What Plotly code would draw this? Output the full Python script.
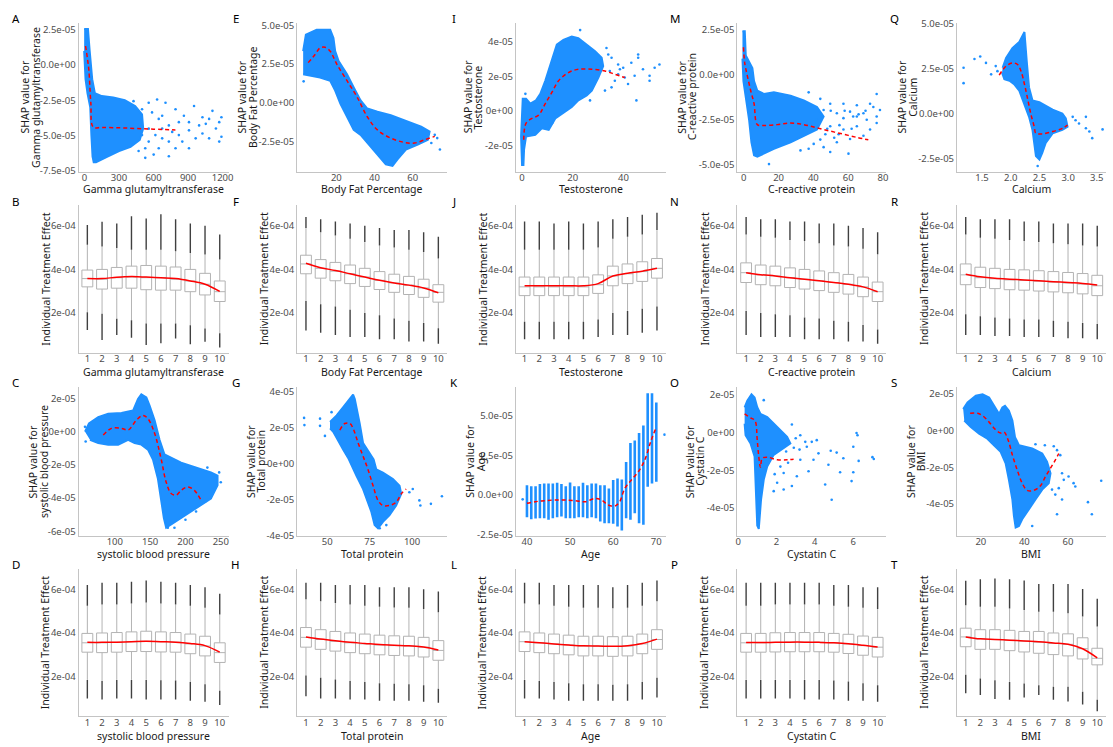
import plotly.graph_objects as go

# ---------------- data (SHAP values in units of 1e-5, ITE in units of 1e-4) ----------------
E5 = 1e-5
E4 = 1e-4

# A: Gamma glutamyltransferase
a_poly_x = [-3, 30, 45, 55, 67, 90, 150, 250, 350, 440, 500, 510, 480, 400, 300, 200, 100, 80, 70, 60, 50, 26, 9, 3, -3]
a_poly_y = [2.55, 2.55, 1.0, 0.0, -1.0, -2.0, -2.2, -2.3, -2.5, -2.9, -3.5, -4.5, -5.3, -5.8, -6.1, -6.5, -6.9, -6.9, -6.5, -5.0, -3.0, -2.0, -1.0, 0.0, 1.0]
a_pts_x = [426, 631, 558, 704, 791, 952, 1112, 1190, 1025, 864, 908, 1054, 1142, 1190, 966, 1025, 850, 791, 733, 645,
           528, 1083, 1171, 675, 762, 645, 558, 528, 601, 908, 500, 587, 675, 733, 500, 558, 616, 470, 675, 820,
           820, 996, 1083, 1171, 908, 733]
a_pts_y = [-2.56, -2.44, -2.67, -2.67, -3.13, -2.9, -3.25, -3.7, -3.7, -3.6, -4.05, -4.17, -4.5, -5.09, -5.2, -4.86, -5.43, -5.9, -6.47, -5.9,
           -5.9, -5.2, -5.43, -5.2, -4.74, -3.82, -4.51, -6.58, -6.35, -4.63, -3.13, -3.36, -3.6, -4.28, -4.97, -5.43, -4.97, -6.1, -4.5, -4.05,
           -4.97, -4.28, -3.82, -4.05, -5.9, -5.43]
a_tr_x = [9, 25, 38, 55, 76, 150, 300, 450, 600, 790]
a_tr_y = [1.35, 0.5, -0.37, -2.68, -4.4, -4.42, -4.45, -4.5, -4.55, -4.6]

# E: Body Fat Percentage
e_poly_x = [2.65, 4.07, 9.7, 16.8, 18.5, 19.4, 21.2, 25.6, 29.1, 32.7, 36.2, 41.5, 48.5, 57.3, 64.4, 68.8, 67.9, 62.6, 56.4, 52.0,
            49.4, 45.9, 41.5, 36.2, 32.7, 29.1, 25.6, 22.1, 19.4, 16.8, 11.5, 6.2, 2.65]
e_poly_y = [3.33, 4.39, 4.71, 4.71, 4.18, 3.33, 2.69, 1.84, 0.99, 0.15, -0.38, -0.59, -0.81, -1.23, -1.55, -1.87, -2.40, -2.71, -3.03, -3.67,
            -4.09, -3.99, -3.35, -2.61, -2.08, -1.76, -0.91, -0.06, 0.78, 1.42, 1.63, 1.74, 1.84]
e_pts_x = [71.5, 74.2, 69.7, 72.8, 2.9]
e_pts_y = [-2.08, -3.03, -2.61, -2.29, 1.38]
e_tr_x = [5.3, 8.9, 11.5, 14.1, 16.8, 20.3, 25.6, 30.9, 36.2, 41.5, 48.5, 55.6, 60.9, 66.2, 71.5]
e_tr_y = [2.59, 3.12, 3.54, 3.58, 3.33, 2.48, 1.42, 0.36, -0.91, -1.76, -2.29, -2.57, -2.61, -2.40, -2.18]

# I: Testosterone
i_poly_x = [0, -0.4, 0, 0.26, 1.57, 3.27, 5.49, 7.19, 9.15, 11.8, 13.7, 16.3, 19.6, 22.2, 25.5, 28.8, 31.4, 32.0, 30.1, 27.5,
            25.5, 22.2, 19.6, 15.7, 13.1, 10.5, 7.8, 5.2, 1.57, 0.78, 0.52]
i_poly_y = [-3.2, -1.49, -0.15, 0.70, 0.70, 0.42, 0.61, 0.99, 1.75, 2.9, 3.85, 4.13, 4.32, 4.23, 3.85, 3.47, 3.09, 2.61, 1.94, 1.18,
            0.90, 0.61, 0.23, -0.15, -0.44, -1.10, -1.01, -1.39, -1.49, -2.25, -3.2]
i_pts_x = [22.9, 34, 33.3, 35.3, 37.9, 39.9, 43.1, 45.8, 45.8, 44.4, 47.7, 50.3, 50.3, 54.2, 52.3, 38.6, 40.5, 35.3, 32.7, 45.1,
           37.9, 34.6, 36.6, 41.8, 26.8, 13.1, 11.8, 1.3]
i_pts_y = [4.7, 3.28, 3.66, 3.09, 2.7, 2.51, 2.8, 3.28, 3.09, 2.04, 2.42, 2.04, 1.75, 2.7, 2.51, 2.42, 1.94, 1.37, 1.18, 0.61,
           2.13, 2.32, 1.75, 1.56, 0.61, -0.15, -0.72, 0.99]
i_tr_x = [0.65, 1.57, 3.9, 6.5, 9.15, 11.8, 14.4, 18.3, 22.2, 27.5, 32.7, 36.6, 40.5]
i_tr_y = [-1.68, -0.72, -0.44, -0.25, 0.42, 1.09, 1.75, 2.23, 2.42, 2.42, 2.32, 2.13, 1.94]

# M: C-reactive protein
m_poly_x = [-0.76, 0.57, 1.14, 2.1, 4.95, 5.9, 7.8, 11.6, 17.3, 26.9, 34.5, 42.1, 45.9, 42.1, 34.5, 26.9, 17.3, 11.6, 7.8, 5.9,
            4.4, 3.05, 1.14, -0.2, -0.76]
m_poly_y = [2.41, 2.41, 1.07, 0.89, 0.36, -0.36, -0.89, -1.07, -0.98, -1.16, -1.43, -1.79, -2.32, -3.04, -3.39, -3.75, -4.11, -4.38, -4.55, -4.47,
            -3.75, -2.5, -1.25, -0.36, 0.89]
m_pts_x = [37.3, 44, 49.7, 57.3, 65, 72.6, 76.4, 74.5, 76.4, 68.8, 62.9, 57.3, 49.7, 57.3, 65, 72.6, 76.4, 68.8, 61.1, 53.5,
           45.9, 40.2, 49.7, 60.2, 37.3, 32.6, 65, 53.5, 45.9, 61.1, 70.7, 78.3, 54.5, 46.9, 14.5,
           50, 52, 55, 48, 58, 42, 44, 62, 66, 70]
m_pts_y = [-0.98, -1.34, -1.61, -1.61, -1.7, -1.61, -1.07, -1.79, -2.32, -2.14, -2.32, -2.41, -2.86, -3.04, -2.86, -3.04, -2.68, -3.39, -3.57, -3.75,
           -4.02, -3.84, -4.29, -4.38, -4.11, -4.2, -2.32, -2.14, -1.96, -2.05, -2.5, -1.96, -3.3, -3.3, -4.96,
           -2.0, -3.5, -2.8, -3.0, -2.0, -2.5, -3.6, -3.0, -2.2, -2.0]
m_tr_x = [-0.2, 0.57, 2.1, 4.0, 5.9, 7.8, 11.6, 19.2, 26.9, 34.5, 42.1, 49.7, 57.3, 65, 71.6]
m_tr_y = [1.52, 0.63, -0.09, -0.89, -1.61, -2.77, -2.82, -2.77, -2.68, -2.77, -2.95, -3.13, -3.3, -3.48, -3.61]

# Q: Calcium
q_poly_x = [1.86, 1.92, 2.03, 2.15, 2.24, 2.25, 2.28, 2.32, 2.38, 2.5, 2.73, 2.9, 2.96, 2.99, 2.9, 2.73, 2.61, 2.55, 2.5, 2.44,
            2.41, 2.38, 2.32, 2.24, 2.15, 2.06, 1.98, 1.89, 1.85]
q_poly_y = [2.56, 3.1, 3.65, 4.0, 4.55, 4.0, 2.92, 1.46, 0.73, 0.64, 0.22, 0, -0.27, -0.73, -0.91, -1.1, -1.64, -2.19, -2.56, -2.37,
            -1.64, -0.91, -0.18, 0.55, 1.28, 1.64, 1.83, 1.92, 2.28]
q_pts_x = [1.18, 1.18, 1.37, 1.47, 1.57, 1.74, 1.66, 1.77, 2.47, 3.13, 3.19, 3.31, 3.37, 3.42, 3.31, 3.6, 3.08]
q_pts_y = [2.56, 1.7, 3.05, 3.19, 2.83, 2.65, 2.19, 2.37, -2.92, -0.37, -0.55, -0.82, -1.0, -1.37, -0.18, -0.88, -0.18]
q_tr_x = [1.8, 1.92, 2.03, 2.12, 2.18, 2.24, 2.29, 2.35, 2.41, 2.44, 2.55, 2.73, 2.9, 2.99]
q_tr_y = [2.15, 2.65, 2.83, 2.74, 2.37, 1.64, 0.91, 0, -0.73, -1.1, -1.13, -1.0, -0.82, -0.64]

# C: systolic blood pressure
c_poly_x = [57.8, 63.4, 76.5, 90.6, 109.4, 125.8, 132.8, 137.5, 144.6, 149.2, 156.3, 163.3, 170.3, 179.7, 193.8, 207.9, 222, 236, 245.4, 245.4,
            236, 222, 207.9, 193.8, 179.7, 172.7, 169.4, 165.7, 161, 154, 146.9, 137.5, 128.1, 118.8, 104.7, 90.6, 76.5, 64.8]
c_poly_y = [0, 0.49, 0.88, 1.08, 1.12, 1.27, 1.96, 2.25, 2.06, 1.57, 0.69, -0.49, -1.37, -1.57, -1.86, -2.06, -2.25, -2.45, -2.65, -3.23,
            -4.02, -4.41, -4.8, -5.19, -5.59, -5.78, -5.19, -4.02, -2.84, -1.67, -1.08, -0.78, -0.69, -0.49, -0.78, -0.78, -0.69, -0.49]
c_pts_x = [58.7, 57.8, 231, 247.7, 250, 240.7, 184.4, 175, 215, 228, 200]
c_pts_y = [-0.59, 0.29, -2.16, -2.45, -3.04, -3.43, -5.78, -5.78, -4.8, -4.2, -5.3]
c_tr_x = [83.6, 95.3, 109.4, 118.8, 130.5, 139.9, 146.9, 156.3, 165.7, 172.7, 179.7, 186.8, 193.8, 203.2, 212.6, 222]
c_tr_y = [-0.2, 0.2, 0.2, 0.1, 0.69, 0.98, 0.78, -0.1, -1.67, -3.04, -3.72, -3.82, -3.53, -3.33, -3.53, -4.12]

# G: Total protein
g_poly_x = [51.6, 55.5, 59.4, 62.3, 65.2, 66.2, 67.2, 69.1, 71.1, 75, 77.3, 78.9, 82.8, 88.7, 92.6, 93.6, 90.6, 86.7, 82.8, 79.9,
            77.9, 76, 73, 71.1, 67.2, 65.2, 62.3, 59.4, 56.4, 53.5, 51.6]
g_poly_y = [2.31, 2.67, 3.13, 3.49, 3.82, 3.58, 3.13, 2.22, 1.13, 0.58, 0.22, -0.33, -0.51, -0.87, -1.24, -1.69, -2.33, -2.87, -3.24, -3.6,
            -3.42, -2.69, -1.96, -1.42, -0.69, -0.24, 0.31, 0.76, 1.31, 1.76, 1.95]
g_pts_x = [36.3, 36.5, 45.7, 45.7, 48.6, 52.5, 100.4, 104.3, 104.9, 111.1, 117.6, 98.4, 80.9, 84.8]
g_pts_y = [2.53, 2.13, 2.49, 2.09, 1.53, 2.85, -1.42, -2.05, -2.33, -2.24, -1.82, -1.6, -3.6, -3.42]
g_tr_x = [57.4, 60.3, 63.3, 65.2, 68.2, 71.1, 74, 77, 79.9, 82.8, 86.7, 90.6, 93.6, 96.5]
g_tr_y = [1.85, 2.22, 2.22, 1.95, 1.13, 0.4, -0.33, -1.24, -2.05, -2.33, -2.33, -2.15, -1.69, -1.42]

# K: Age (one column of points per year)
k_age = [40, 41, 42, 43, 44, 45, 46, 47, 48, 49, 50, 51, 52, 53, 54, 55, 56, 57, 58, 59, 60, 61, 62, 63, 64, 65, 66, 67, 68, 69, 70]
k_lo = [-1.40, -1.52, -1.48, -1.46, -1.46, -1.56, -1.46, -1.40, -1.35, -1.46, -1.46, -1.46, -1.40, -1.40, -1.46, -1.40, -1.46, -1.67, -1.77, -1.77,
        -1.81, -1.98, -2.23, -1.46, -1.56, -1.15, -1.77, -1.87, 0.52, 0.73, 0.83]
k_hi = [0.62, 0.56, 0.56, 0.69, 0.73, 0.73, 0.73, 0.77, 0.69, 0.56, 0.79, 0.56, 0.56, 0.77, 0.62, 0.73, 0.73, 0.62, 0.62, 0.42,
        0.94, 1.04, 0.98, 2.08, 3.27, 3.44, 3.90, 4.38, 6.40, 6.40, 5.83]
k_pts_x = [39, 71.9]
k_pts_y = [-0.27, 3.8]
k_tr_x = [40, 41.9, 44.2, 46.5, 48.8, 51.2, 53.5, 55.8, 57.3, 58.8, 60.4, 61.5, 62.7, 64.2, 65.8, 67.3, 68.8, 70]
k_tr_y = [-0.52, -0.42, -0.35, -0.31, -0.31, -0.35, -0.42, -0.21, -0.31, -0.62, -0.69, -0.42, 0.42, 0.94, 1.46, 2.19, 3.44, 4.27]

# O: Cystatin C
o_poly_x = [0.33, 0.47, 0.69, 0.85, 0.99, 1.16, 1.51, 1.85, 2.2, 2.55, 2.72, 2.37, 1.85, 1.51, 1.33, 1.19, 1.13, 1.07, 0.99, 0.95,
            0.94, 0.85, 0.64, 0.38, 0.33]
o_poly_y = [1.34, 1.69, 2.03, 1.86, 1.34, 0.99, 0.82, 0.47, 0.12, -0.23, -0.57, -0.83, -1.18, -1.79, -2.49, -3.53, -4.4, -5.1, -4.92, -3.88,
            -2.66, -1.27, -0.57, -0.14, 0.47]
o_pts_x = [1.33, 2.8, 3.24, 3.5, 3.84, 4.1, 3.58, 4.19, 3.67, 3.06, 2.8, 2.37, 4.54, 4.83, 4.88, 5.14, 5.32, 5.49, 6.01, 6.18,
           6.23, 6.29, 6.01, 5.92, 7.01, 7.08, 4.71, 2.37, 2.03, 1.85, 3.24, 3.93, 2.0, 2.5, 2.9, 3.0, 2.2, 2.6, 3.2, 1.9]
o_pts_y = [1.72, 0.43, -0.14, -0.49, -0.49, -0.4, -0.75, -1.1, -2.05, -2.31, -2.83, -3.01, -2.75, -0.96, -3.56, -1.06, -2.1, -1.36, -0.75, -0.02,
           -0.14, -1.5, -2.1, -2.57, -1.3, -1.4, -1.7, -2.14, -2.66, -3.1, -1.44, -1.44, -0.5, -1.0, -0.8, -0.3, -1.8, -1.6, -0.9, -2.2]
o_tr_x = [0.33, 0.64, 0.87, 0.99, 1.07, 1.16, 1.25, 1.51, 2.03, 2.55, 2.89]
o_tr_y = [0.99, 0.78, 0.64, -0.4, -1.27, -1.84, -1.36, -1.3, -1.44, -1.44, -1.41]

# S: BMI
s_poly_x = [11.9, 13.9, 17.7, 20.8, 23.8, 26.1, 28.4, 29.9, 31.1, 32.9, 34.5, 35.7, 37.5, 43.6, 48.2, 50.4, 52, 51.2, 48.2, 45.1,
            42.1, 39, 37.5, 36, 35.2, 34.5, 32.9, 31.4, 29.1, 26.1, 23, 19.2, 15.4, 12.4]
s_poly_y = [1.16, 1.52, 1.88, 1.96, 1.79, 1.34, 0.89, 1.25, 1.34, 1.07, 0.54, -0.36, -0.8, -0.98, -1.25, -1.7, -2.32, -2.86, -3.21, -3.75,
            -4.29, -4.82, -5.18, -5.27, -4.64, -3.75, -2.68, -1.79, -1.16, -0.8, -0.45, -0.18, 0.18, 0.54]
s_pts_x = [45.1, 49.4, 53.5, 55, 56.5, 57.3, 58.1, 60.3, 62.6, 63.4, 55.8, 57.3, 55, 69.2, 75.3, 71, 54.2, 52.7, 43.6]
s_pts_y = [-0.75, -0.8, -0.86, -1.07, -1.34, -2.32, -2.68, -2.5, -2.86, -3.04, -3.13, -3.75, -4.55, -3.89, -2.73, -4.55, -3.48, -3.21, -5.18]
s_tr_x = [15.1, 18.5, 20.8, 23.8, 26.8, 29.1, 30.7, 32.6, 34.5, 36.7, 39, 41.3, 44.4, 47.4, 49.7, 52, 54.2, 55.8]
s_tr_y = [0.93, 0.93, 0.8, 0.45, 0.04, -0.14, -0.09, -0.54, -1.34, -2.14, -2.86, -3.25, -3.25, -3.0, -2.5, -2.05, -1.61, -1.25]

# ---- Individual treatment effect by decile (units 1e-4) ----
deciles = [1, 2, 3, 4, 5, 6, 7, 8, 9, 10]

b_q1 = [3.20, 3.10, 3.14, 3.14, 3.07, 3.05, 3.05, 2.98, 2.83, 2.53]
b_med = [3.58, 3.55, 3.62, 3.65, 3.62, 3.62, 3.55, 3.47, 3.32, 2.98]
b_q3 = [3.97, 4.00, 4.09, 4.15, 4.18, 4.15, 4.11, 4.00, 3.82, 3.47]
b_uf = [5.13, 5.05, 4.98, 4.90, 4.90, 4.90, 4.83, 4.75, 4.68, 4.45]
b_hi = [6.03, 6.18, 6.10, 6.44, 6.33, 6.53, 6.30, 6.10, 6.00, 5.60]
b_lf = [2.04, 1.97, 1.74, 1.67, 1.52, 1.52, 1.52, 1.44, 1.29, 1.07]
b_lo = [1.22, 0.77, 0.99, 0.87, 0.54, 0.62, 0.84, 0.57, 0.69, 0.42]
b_tr = [3.58, 3.58, 3.64, 3.67, 3.65, 3.62, 3.58, 3.47, 3.32, 2.99]

f_q1 = [3.80, 3.60, 3.48, 3.35, 3.22, 3.08, 2.95, 2.85, 2.72, 2.50]
f_med = [4.25, 4.05, 3.92, 3.80, 3.65, 3.50, 3.38, 3.28, 3.15, 2.95]
f_q3 = [4.65, 4.45, 4.32, 4.20, 4.05, 3.90, 3.78, 3.68, 3.55, 3.30]
f_uf = [5.90, 5.70, 5.55, 5.40, 5.25, 5.10, 5.00, 4.90, 4.80, 4.50]
f_hi = [6.40, 6.30, 6.20, 6.10, 6.00, 5.90, 5.80, 5.80, 5.70, 5.50]
f_lf = [2.55, 2.40, 2.30, 2.15, 2.00, 1.90, 1.75, 1.65, 1.55, 1.30]
f_lo = [1.20, 1.10, 1.00, 0.90, 0.90, 0.80, 0.80, 0.70, 0.70, 0.60]
f_tr = [4.28, 4.08, 3.95, 3.80, 3.65, 3.50, 3.38, 3.28, 3.15, 2.93]

j_q1 = [2.80, 2.80, 2.80, 2.80, 2.80, 2.90, 3.25, 3.35, 3.45, 3.60]
j_med = [3.20, 3.20, 3.20, 3.20, 3.20, 3.30, 3.70, 3.80, 3.90, 4.05]
j_q3 = [3.65, 3.65, 3.65, 3.65, 3.65, 3.75, 4.15, 4.25, 4.35, 4.50]
j_uf = [4.90, 4.90, 4.90, 4.90, 4.90, 5.00, 5.40, 5.50, 5.60, 5.80]
j_hi = [6.20, 6.20, 6.10, 6.20, 6.10, 6.20, 6.30, 6.40, 6.50, 6.60]
j_lf = [1.60, 1.60, 1.60, 1.60, 1.60, 1.70, 2.00, 2.10, 2.20, 2.30]
j_lo = [0.80, 0.80, 0.80, 0.80, 0.80, 0.90, 1.00, 1.00, 1.10, 1.20]
j_tr = [3.25, 3.25, 3.25, 3.25, 3.25, 3.35, 3.70, 3.82, 3.92, 4.05]

n_q1 = [3.40, 3.30, 3.25, 3.17, 3.10, 3.03, 2.95, 2.87, 2.75, 2.53]
n_med = [3.85, 3.75, 3.70, 3.62, 3.55, 3.48, 3.40, 3.32, 3.20, 2.98]
n_q3 = [4.30, 4.20, 4.15, 4.07, 4.00, 3.93, 3.85, 3.77, 3.65, 3.42]
n_uf = [5.60, 5.50, 5.45, 5.35, 5.30, 5.20, 5.10, 5.05, 4.95, 4.70]
n_hi = [6.40, 6.30, 6.30, 6.20, 6.20, 6.10, 6.10, 6.00, 5.90, 5.70]
n_lf = [2.10, 2.00, 1.95, 1.90, 1.80, 1.75, 1.65, 1.60, 1.45, 1.25]
n_lo = [1.00, 0.90, 0.90, 0.90, 0.80, 0.80, 0.80, 0.70, 0.70, 0.60]
n_tr = [3.85, 3.76, 3.70, 3.62, 3.55, 3.48, 3.40, 3.32, 3.20, 2.98]

r_q1 = [3.30, 3.17, 3.12, 3.07, 3.05, 3.01, 2.97, 2.93, 2.88, 2.80]
r_med = [3.75, 3.62, 3.57, 3.52, 3.50, 3.46, 3.42, 3.38, 3.33, 3.25]
r_q3 = [4.25, 4.10, 4.05, 4.00, 3.98, 3.94, 3.90, 3.86, 3.81, 3.73]
r_uf = [5.60, 5.45, 5.40, 5.35, 5.30, 5.25, 5.20, 5.15, 5.10, 5.05]
r_hi = [6.40, 6.30, 6.30, 6.30, 6.20, 6.20, 6.10, 6.10, 6.10, 6.00]
r_lf = [1.95, 1.85, 1.80, 1.75, 1.70, 1.70, 1.65, 1.60, 1.55, 1.50]
r_lo = [1.00, 1.00, 0.95, 0.95, 0.90, 0.90, 0.90, 0.85, 0.85, 0.80]
r_tr = [3.78, 3.66, 3.59, 3.55, 3.52, 3.48, 3.44, 3.40, 3.36, 3.29]

d_q1 = [3.12, 3.10, 3.12, 3.15, 3.15, 3.13, 3.12, 3.05, 2.95, 2.65]
d_med = [3.55, 3.55, 3.57, 3.60, 3.62, 3.60, 3.58, 3.50, 3.40, 3.10]
d_q3 = [3.98, 4.00, 4.02, 4.05, 4.08, 4.05, 4.02, 3.95, 3.85, 3.55]
d_uf = [5.25, 5.30, 5.30, 5.35, 5.40, 5.35, 5.30, 5.25, 5.15, 4.85]
d_hi = [6.20, 6.30, 6.30, 6.35, 6.40, 6.35, 6.30, 6.20, 6.10, 5.80]
d_lf = [1.85, 1.80, 1.85, 1.85, 1.85, 1.83, 1.82, 1.75, 1.65, 1.35]
d_lo = [1.00, 0.95, 1.00, 1.00, 0.95, 0.95, 0.95, 0.90, 0.85, 0.70]
d_tr = [3.57, 3.57, 3.58, 3.60, 3.62, 3.60, 3.58, 3.52, 3.42, 3.12]

h_q1 = [3.35, 3.25, 3.17, 3.10, 3.05, 3.00, 2.97, 2.95, 2.90, 2.75]
h_med = [3.80, 3.70, 3.62, 3.55, 3.50, 3.45, 3.42, 3.40, 3.35, 3.20]
h_q3 = [4.25, 4.15, 4.07, 4.00, 3.95, 3.90, 3.87, 3.85, 3.80, 3.65]
h_uf = [5.55, 5.45, 5.37, 5.30, 5.25, 5.20, 5.17, 5.15, 5.10, 4.95]
h_hi = [6.30, 6.30, 6.20, 6.20, 6.20, 6.10, 6.10, 6.10, 6.00, 5.90]
h_lf = [2.05, 1.95, 1.87, 1.80, 1.75, 1.70, 1.67, 1.65, 1.60, 1.45]
h_lo = [1.10, 1.00, 1.00, 0.95, 0.95, 0.90, 0.90, 0.90, 0.85, 0.80]
h_tr = [3.82, 3.72, 3.64, 3.57, 3.52, 3.47, 3.44, 3.41, 3.36, 3.22]

l_q1 = [3.15, 3.10, 3.05, 3.00, 2.95, 2.95, 2.93, 2.95, 3.05, 3.25]
l_med = [3.60, 3.55, 3.50, 3.45, 3.40, 3.40, 3.38, 3.40, 3.50, 3.70]
l_q3 = [4.05, 4.00, 3.95, 3.90, 3.85, 3.85, 3.83, 3.85, 3.95, 4.15]
l_uf = [5.35, 5.30, 5.25, 5.20, 5.15, 5.15, 5.13, 5.15, 5.25, 5.45]
l_hi = [6.30, 6.30, 6.20, 6.20, 6.20, 6.20, 6.10, 6.20, 6.30, 6.40]
l_lf = [1.85, 1.80, 1.75, 1.70, 1.65, 1.65, 1.63, 1.65, 1.75, 1.95]
l_lo = [1.00, 1.00, 0.95, 0.90, 0.90, 0.90, 0.90, 0.90, 0.95, 1.05]
l_tr = [3.60, 3.55, 3.50, 3.45, 3.41, 3.40, 3.39, 3.42, 3.52, 3.72]

p_q1 = [3.12, 3.12, 3.13, 3.14, 3.14, 3.14, 3.12, 3.06, 2.98, 2.90]
p_med = [3.55, 3.55, 3.57, 3.58, 3.58, 3.58, 3.55, 3.50, 3.42, 3.35]
p_q3 = [3.98, 3.98, 4.01, 4.02, 4.02, 4.02, 3.98, 3.94, 3.86, 3.80]
p_uf = [5.25, 5.25, 5.30, 5.30, 5.30, 5.30, 5.25, 5.20, 5.15, 5.10]
p_hi = [6.30, 6.30, 6.30, 6.30, 6.30, 6.30, 6.20, 6.20, 6.10, 6.10]
p_lf = [1.85, 1.85, 1.85, 1.85, 1.85, 1.85, 1.82, 1.78, 1.70, 1.60]
p_lo = [1.00, 1.00, 1.00, 1.00, 0.95, 0.95, 0.95, 0.90, 0.90, 0.85]
p_tr = [3.56, 3.56, 3.57, 3.58, 3.58, 3.57, 3.55, 3.51, 3.44, 3.36]

t_q1 = [3.37, 3.25, 3.25, 3.19, 3.13, 3.07, 3.01, 2.95, 2.81, 2.54]
t_med = [3.82, 3.73, 3.70, 3.67, 3.63, 3.58, 3.52, 3.48, 3.28, 2.84]
t_q3 = [4.22, 4.15, 4.15, 4.12, 4.07, 4.07, 4.00, 3.96, 3.78, 3.30]
t_uf = [5.27, 5.20, 5.20, 5.12, 5.05, 4.97, 4.97, 4.90, 4.75, 4.30]
t_hi = [6.39, 6.46, 6.50, 6.46, 6.40, 6.24, 6.24, 6.24, 6.02, 5.57]
t_lf = [2.09, 1.91, 1.84, 1.76, 1.69, 1.61, 1.54, 1.54, 1.31, 0.94]
t_lo = [1.24, 1.16, 0.98, 0.94, 1.04, 1.16, 0.94, 0.86, 0.72, 0.42]
t_tr = [3.82, 3.73, 3.70, 3.67, 3.63, 3.60, 3.54, 3.48, 3.28, 2.86]

# ---------------- layout constants ----------------
W, H = 1113, 747
BLUE = "#1E90FF"
RED = "#FF0000"
AXC = "#C4C4C4"
FONT = "Noto Sans"
TICKC = "#4D4D4D"
COLS = [(77, 228), (297, 448), (517, 668), (740, 890), (961, 1111)]
ROWS = [(18, 169), (203, 353), (388, 539), (572, 722)]
XTITLE_Y = [187, 372, 557, 741.5]
LETTER_X = [14, 235, 455, 677, 898]
LETTER_Y = [14, 199, 383, 568]
BOX_YT_X = [44, 264, 484, 707, 928]

fig = go.Figure()
ann = []
counter = [0]


def add_axes(col, row, xr, yr, xt, xtt, yt, ytt):
    counter[0] += 1
    n = counter[0]
    xn = "x" if n == 1 else "x%d" % n
    yn = "y" if n == 1 else "y%d" % n
    x0, x1 = COLS[col]
    y0, y1 = ROWS[row]
    common = dict(showline=True, linecolor=AXC, linewidth=1, showgrid=False, zeroline=False,
                  ticks="", tickfont=dict(family=FONT, size=9.5, color=TICKC), tickmode="array",
                  fixedrange=True)
    fig.update_layout(**{
        ("xaxis" if n == 1 else "xaxis%d" % n): dict(common, domain=[x0 / W, x1 / W], range=xr,
                                                   tickvals=xt, ticktext=xtt, anchor=yn,
                                                   ticklabelstandoff=-3),
        ("yaxis" if n == 1 else "yaxis%d" % n): dict(common, domain=[1 - y1 / H, 1 - y0 / H], range=yr,
                                                   tickvals=yt, ticktext=ytt, anchor=xn),
    })
    return xn, yn


def text(x, y, s, size=10.5, angle=0, color="#1A1A1A"):
    ann.append(dict(x=x / W, y=1 - y / H, xref="paper", yref="paper", text=s, showarrow=False,
                    textangle=angle, font=dict(family=FONT, size=size, color=color),
                    xanchor="center", yanchor="middle"))


def frame_text(col, row, letter, xlab):
    x0, x1 = COLS[col]
    text(LETTER_X[col], LETTER_Y[row], letter, size=11.5, color="#000000")
    text((x0 + x1) / 2, XTITLE_Y[row], xlab)


def scatter_panel(col, row, letter, feat, ylx, xr, yr, xt, xtt, yt, ytt,
                  px, py, sx, sy, tx, ty, bars=None):
    xn, yn = add_axes(col, row, xr, [v * E5 for v in yr], xt, xtt, [v * E5 for v in yt], ytt)
    if px is not None:
        fig.add_trace(go.Scatter(x=px, y=[v * E5 for v in py], xaxis=xn, yaxis=yn, mode="lines",
                                 fill="toself", fillcolor=BLUE, line=dict(color=BLUE, width=2),
                                 hoverinfo="skip", showlegend=False))
    if bars is not None:
        bx, blo, bhi = bars
        xs, ys = [], []
        for a, lo, hi in zip(bx, blo, bhi):
            xs += [a, a, None]
            ys += [lo * E5, hi * E5, None]
        fig.add_trace(go.Scatter(x=xs, y=ys, xaxis=xn, yaxis=yn, mode="lines",
                                 line=dict(color=BLUE, width=2.6), hoverinfo="skip", showlegend=False))
    fig.add_trace(go.Scatter(x=sx, y=[v * E5 for v in sy], xaxis=xn, yaxis=yn, mode="markers",
                             marker=dict(color=BLUE, size=2.6, line=dict(width=0)),
                             hoverinfo="skip", showlegend=False))
    fig.add_trace(go.Scatter(x=tx, y=[v * E5 for v in ty], xaxis=xn, yaxis=yn, mode="lines",
                             line=dict(color=RED, width=1.5, dash="4px,3px", shape="spline"),
                             hoverinfo="skip", showlegend=False))
    y0, y1 = ROWS[row]
    text(ylx[0], (y0 + y1) / 2, "SHAP value for", angle=-90)
    text(ylx[1], (y0 + y1) / 2, feat, angle=-90)
    frame_text(col, row, letter, feat)


BOX_YT = [2, 4, 6]
BOX_YTT = ["2e-04", "4e-04", "6e-04"]
BOX_YR = [0.18, 6.95]


def box_panel(col, row, letter, feat, q1, med, q3, uf, hi, lf, lo, tr):
    xn, yn = add_axes(col, row, [0.4, 10.6], [v * E4 for v in BOX_YR], deciles,
                      [str(d) for d in deciles], [v * E4 for v in BOX_YT], BOX_YTT)
    fig.add_trace(go.Box(x=deciles, q1=[v * E4 for v in q1], median=[v * E4 for v in med],
                         q3=[v * E4 for v in q3], lowerfence=[v * E4 for v in lf],
                         upperfence=[v * E4 for v in uf], boxpoints=False, width=0.74,
                         fillcolor="white", line=dict(color="#B3B3B3", width=1), whiskerwidth=0,
                         xaxis=xn, yaxis=yn, hoverinfo="skip", showlegend=False))
    xs, ys = [], []
    for d, u, h, l, o in zip(deciles, uf, hi, lf, lo):
        xs += [d, d, None, d, d, None]
        ys += [u * E4, h * E4, None, l * E4, o * E4, None]
    fig.add_trace(go.Scatter(x=xs, y=ys, xaxis=xn, yaxis=yn, mode="lines",
                             line=dict(color="#404040", width=1.4), hoverinfo="skip", showlegend=False))
    fig.add_trace(go.Scatter(x=deciles, y=[v * E4 for v in tr], xaxis=xn, yaxis=yn, mode="lines",
                             line=dict(color=RED, width=1.5, shape="spline"),
                             hoverinfo="skip", showlegend=False))
    y0, y1 = ROWS[row]
    text(BOX_YT_X[col], (y0 + y1) / 2, "Individual Treatment Effect", angle=-90)
    frame_text(col, row, letter, feat)


# ---------------- row 1: SHAP dependence ----------------
scatter_panel(0, 0, "A", "Gamma glutamyltransferase", (23.5, 34), [-52, 1252], [-7.55, 3.0],
              [0, 300, 600, 900, 1200], ["0", "300", "600", "900", "1200"],
              [2.5, 0, -2.5, -5, -7.5], ["2.5e-05", "0.0e+00", "-2.5e-05", "-5.0e-05", "-7.5e-05"],
              a_poly_x, a_poly_y, a_pts_x, a_pts_y, a_tr_x, a_tr_y)
scatter_panel(1, 0, "E", "Body Fat Percentage", (242, 252.5), [-0.5, 78], [-4.45, 5.17],
              [20, 40, 60], ["20", "40", "60"],
              [5, 2.5, 0, -2.5], ["5.0e-05", "2.5e-05", "0.0e+00", "-2.5e-05"],
              e_poly_x, e_poly_y, e_pts_x, e_pts_y, e_tr_x, e_tr_y)
scatter_panel(2, 0, "I", "Testosterone", (469, 479.5), [-2.5, 56.7], [-3.53, 5.13],
              [0, 20, 40], ["0", "20", "40"],
              [4, 2, 0, -2], ["4e-05", "2e-05", "0e+00", "-2e-05"],
              i_poly_x, i_poly_y, i_pts_x, i_pts_y, i_tr_x, i_tr_y)
scatter_panel(3, 0, "M", "C-reactive protein", (684, 694.5), [-3.7, 82], [-5.37, 2.88],
              [0, 20, 40, 60, 80], ["0", "20", "40", "60", "80"],
              [2.5, 0, -2.5, -5], ["2.5e-05", "0.0e+00", "-2.5e-05", "-5.0e-05"],
              m_poly_x, m_poly_y, m_pts_x, m_pts_y, m_tr_x, m_tr_y)
scatter_panel(4, 0, "Q", "Calcium", (906, 916.5), [1.065, 3.66], [-3.23, 5.07],
              [1.5, 2.0, 2.5, 3.0, 3.5], ["1.5", "2.0", "2.5", "3.0", "3.5"],
              [5, 2.5, 0, -2.5], ["5.0e-05", "2.5e-05", "0.0e+00", "-2.5e-05"],
              q_poly_x, q_poly_y, q_pts_x, q_pts_y, q_tr_x, q_tr_y)

# ---------------- row 2: ITE boxes ----------------
box_panel(0, 1, "B", "Gamma glutamyltransferase", b_q1, b_med, b_q3, b_uf, b_hi, b_lf, b_lo, b_tr)
box_panel(1, 1, "F", "Body Fat Percentage", f_q1, f_med, f_q3, f_uf, f_hi, f_lf, f_lo, f_tr)
box_panel(2, 1, "J", "Testosterone", j_q1, j_med, j_q3, j_uf, j_hi, j_lf, j_lo, j_tr)
box_panel(3, 1, "N", "C-reactive protein", n_q1, n_med, n_q3, n_uf, n_hi, n_lf, n_lo, n_tr)
box_panel(4, 1, "R", "Calcium", r_q1, r_med, r_q3, r_uf, r_hi, r_lf, r_lo, r_tr)

# ---------------- row 3: SHAP dependence ----------------
scatter_panel(0, 2, "C", "systolic blood pressure", (31, 41.5), [48.6, 261], [-6.28, 2.67],
              [100, 150, 200, 250], ["100", "150", "200", "250"],
              [2, 0, -2, -4, -6], ["2e-05", "0e+00", "-2e-05", "-4e-05", "-6e-05"],
              c_poly_x, c_poly_y, c_pts_x, c_pts_y, c_tr_x, c_tr_y)
scatter_panel(1, 2, "G", "Total protein", (250, 260.5), [32.2, 120.7], [-4.03, 4.23],
              [50, 75, 100], ["50", "75", "100"],
              [4, 2, 0, -2, -4], ["4e-05", "2e-05", "0e+00", "-2e-05", "-4e-05"],
              g_poly_x, g_poly_y, g_pts_x, g_pts_y, g_tr_x, g_tr_y)
scatter_panel(2, 2, "K", "Age", (471, 481.5), [37.4, 72.2], [-2.58, 6.78],
              [40, 50, 60, 70], ["40", "50", "60", "70"],
              [5, 2.5, 0, -2.5], ["5.0e-05", "2.5e-05", "0.0e+00", "-2.5e-05"],
              None, None, k_pts_x, k_pts_y, k_tr_x, k_tr_y, bars=(k_age, k_lo, k_hi))
scatter_panel(3, 2, "O", "Cystatin C", (692, 702.5), [-0.05, 7.74], [-5.48, 2.4],
              [0, 2, 4, 6], ["0", "2", "4", "6"],
              [2, 0, -2, -4], ["2e-05", "0e+00", "-2e-05", "-4e-05"],
              o_poly_x, o_poly_y, o_pts_x, o_pts_y, o_tr_x, o_tr_y)
scatter_panel(4, 2, "S", "BMI", (914, 924.5), [9.04, 77.5], [-5.73, 2.34],
              [20, 40, 60], ["20", "40", "60"],
              [2, 0, -2, -4], ["2e-05", "0e+00", "-2e-05", "-4e-05"],
              s_poly_x, s_poly_y, s_pts_x, s_pts_y, s_tr_x, s_tr_y)

# ---------------- row 4: ITE boxes ----------------
box_panel(0, 3, "D", "systolic blood pressure", d_q1, d_med, d_q3, d_uf, d_hi, d_lf, d_lo, d_tr)
box_panel(1, 3, "H", "Total protein", h_q1, h_med, h_q3, h_uf, h_hi, h_lf, h_lo, h_tr)
box_panel(2, 3, "L", "Age", l_q1, l_med, l_q3, l_uf, l_hi, l_lf, l_lo, l_tr)
box_panel(3, 3, "P", "Cystatin C", p_q1, p_med, p_q3, p_uf, p_hi, p_lf, p_lo, p_tr)
box_panel(4, 3, "T", "BMI", t_q1, t_med, t_q3, t_uf, t_hi, t_lf, t_lo, t_tr)

fig.update_layout(width=W, height=H, margin=dict(l=0, r=0, t=0, b=0),
                  paper_bgcolor="white", plot_bgcolor="white", showlegend=False,
                  annotations=ann, font=dict(family=FONT))

fig.write_html("out.html", config={"displayModeBar": False},
               post_script="document.body.style.margin='0px';")
